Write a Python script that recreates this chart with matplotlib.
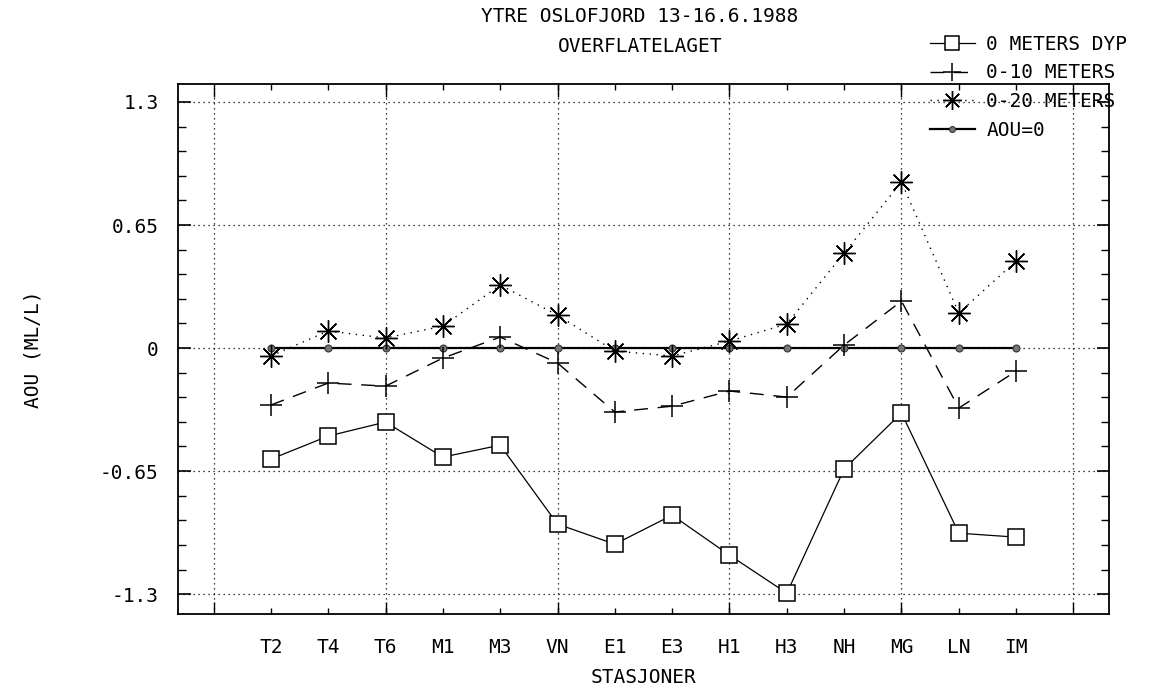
import matplotlib
matplotlib.use("Agg")
import matplotlib.pyplot as plt
from matplotlib.ticker import FixedLocator, MultipleLocator, NullFormatter

stations = ["T2", "T4", "T6", "M1", "M3", "VN", "E1", "E3", "H1", "H3", "NH", "MG", "LN", "IM"]
aou_0m = [-0.587, -0.465, -0.391, -0.576, -0.513, -0.930, -1.036, -0.883, -1.094, -1.295, -0.639, -0.343, -0.978, -0.999]
aou_0_10 = [-0.301, -0.185, -0.201, -0.053, 0.058, -0.079, -0.338, -0.307, -0.227, -0.259, 0.016, 0.248, -0.317, -0.122]
aou_0_20 = [-0.042, 0.090, 0.053, 0.116, 0.333, 0.174, -0.016, -0.042, 0.037, 0.127, 0.502, 0.877, 0.185, 0.460]
aou_zero = [0.0] * len(stations)
y_ticks = [-1.3, -0.65, 0.0, 0.65, 1.3]
y_tick_labels = ["-1.3", "-0.65", "0", "0.65", "1.3"]
series_labels = ["0 METERS DYP", "0-10 METERS", "0-20 METERS", "AOU=0"]

FONT = ["DejaVu Sans Mono"]
FS = 14

fig = plt.figure(figsize=(11.73, 6.91), dpi=100)
ax = fig.add_axes([178 / 1173, 1 - 614 / 691, (1109 - 178) / 1173, (614 - 84) / 691])

x = list(range(1, len(stations) + 1))

l1, = ax.plot(x, aou_0m, color="black", lw=0.9, marker="s", ms=12, mfc="white",
              mec="black", mew=1.1, label=series_labels[0], zorder=4)
l2, = ax.plot(x, aou_0_10, color="black", lw=1.0, dashes=(10, 7), marker="+", ms=16,
              mew=1.1, label=series_labels[1], zorder=4)
l3, = ax.plot(x, aou_0_20, color="black", lw=1.0, dashes=(1, 4), marker=(8, 2, 0), ms=16,
              mew=1.0, label=series_labels[2], zorder=4)
l4, = ax.plot(x, aou_zero, color="black", lw=1.6, marker="o", ms=5, mfc="#777777",
              mec="#333333", mew=0.8, label=series_labels[3], zorder=3)

ax.set_xlim(-0.62, 15.62)
ax.set_ylim(-1.405, 1.395)

# x ticks: major (gridded) every 3, station labels on minor ticks
ax.xaxis.set_major_locator(FixedLocator([0, 3, 6, 9, 12, 15]))
ax.xaxis.set_major_formatter(NullFormatter())
ax.xaxis.remove_overlapping_locs = False
ax.set_xticks(x, labels=stations, minor=True)

ax.set_yticks(y_ticks, labels=y_tick_labels)
ax.yaxis.set_minor_locator(MultipleLocator(0.13))

ax.tick_params(which="both", direction="in", top=True, right=True, color="black")
ax.tick_params(axis="x", which="major", length=9, width=1.0)
ax.tick_params(axis="x", which="minor", length=4, width=1.0, pad=17)
ax.tick_params(axis="y", which="major", length=9, width=1.2, pad=14)
ax.tick_params(axis="y", which="minor", length=6, width=1.0)

for lab in ax.get_xticklabels(minor=True) + ax.get_yticklabels():
    lab.set_fontfamily(FONT)
    lab.set_fontsize(FS)

ax.grid(True, which="major", color="black", lw=0.9, linestyle=(0, (1, 3)))

for s in ax.spines.values():
    s.set_linewidth(1.3)

ax.set_xlabel("STASJONER", fontfamily=FONT, fontsize=FS, labelpad=8)
ax.set_ylabel("AOU (ML/L)", fontfamily=FONT, fontsize=FS, labelpad=41)

fig.text(640 / 1173, 1 - 17 / 691, "YTRE OSLOFJORD 13-16.6.1988", ha="center", va="center",
         fontfamily=FONT, fontsize=FS)
fig.text(640 / 1173, 1 - 46 / 691, "OVERFLATELAGET", ha="center", va="center",
         fontfamily=FONT, fontsize=FS)

fig.legend(handles=[l1, l2, l3, l4], loc="upper left", bbox_to_anchor=(922 / 1173, 1 - 27 / 691),
           frameon=False, prop={"family": FONT, "size": FS}, handlelength=2.3,
           labelspacing=0.5, handletextpad=0.6, borderaxespad=0, markerscale=0.85)

fig.savefig("out.png", dpi=100, facecolor="white")
